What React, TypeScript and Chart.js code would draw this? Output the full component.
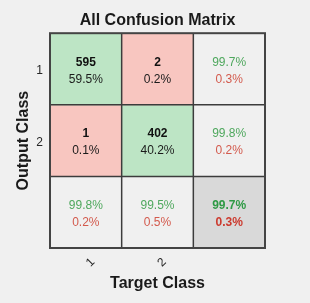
import React, { useEffect, useRef } from 'react';
import { Chart, registerables } from 'chart.js';

Chart.register(...registerables);

const targetClasses = ['1', '2'];
const outputClasses = ['1', '2'];
const counts = [
  [595, 2],
  [1, 402],
];
const cellPercents = [
  [59.5, 0.2],
  [0.1, 40.2],
];
const rowCorrectPct = [99.7, 99.8];
const rowWrongPct = [0.3, 0.2];
const colCorrectPct = [99.8, 99.5];
const colWrongPct = [0.2, 0.5];
const overallCorrectPct = 99.7;
const overallWrongPct = 0.3;

const GREEN_FILL = '#bde5c5';
const RED_FILL = '#f8c6c0';
const GREY_FILL = '#f0f0f0';
const TOTAL_FILL = '#d9d9d9';
const GREEN_TEXT = '#4fa85e';
const RED_TEXT = '#d35a4d';
const FONT = 'Arial, "Liberation Sans", Helvetica, sans-serif';

const fmt = (v: number) => v.toFixed(1) + '%';

export default function App() {
  const ref = useRef<HTMLCanvasElement | null>(null);

  useEffect(() => {
    if (!ref.current) return;
    const n = outputClasses.length;
    const labels = [...targetClasses, ''];
    const fillFor = (r: number, c: number) => {
      if (r === n && c === n) return TOTAL_FILL;
      if (r === n || c === n) return GREY_FILL;
      return r === c ? GREEN_FILL : RED_FILL;
    };
    const datasets = Array.from({ length: n + 1 }, (_, r) => ({
      data: labels.map(() => [r, r + 1] as [number, number]),
      backgroundColor: labels.map((_, c) => fillFor(r, c)),
      borderWidth: 0,
      barPercentage: 1,
      categoryPercentage: 1,
      grouped: false,
    }));

    const textPlugin = {
      id: 'cmText',
      afterDatasetsDraw(chart: any) {
        const { ctx, chartArea } = chart;
        const xs = chart.scales.x;
        const ys = chart.scales.y;
        ctx.save();
        ctx.textAlign = 'center';
        ctx.textBaseline = 'middle';
        const line = (text: string, x: number, y: number, color: string, bold: boolean) => {
          ctx.font = `${bold ? 'bold ' : ''}12px ${FONT}`;
          ctx.fillStyle = color;
          ctx.fillText(text, x, y);
        };
        for (let r = 0; r <= n; r++) {
          for (let c = 0; c <= n; c++) {
            const cx = xs.getPixelForValue(c);
            const cy = ys.getPixelForValue(r + 0.5);
            const y1 = cy - 6.5;
            const y2 = cy + 10.5;
            if (r < n && c < n) {
              line(String(counts[r][c]), cx, y1, '#111111', true);
              line(fmt(cellPercents[r][c]), cx, y2, '#1a1a1a', false);
            } else if (r < n) {
              line(fmt(rowCorrectPct[r]), cx, y1, GREEN_TEXT, false);
              line(fmt(rowWrongPct[r]), cx, y2, RED_TEXT, false);
            } else if (c < n) {
              line(fmt(colCorrectPct[c]), cx, y1, GREEN_TEXT, false);
              line(fmt(colWrongPct[c]), cx, y2, RED_TEXT, false);
            } else {
              line(fmt(overallCorrectPct), cx, y1, '#2f9a45', true);
              line(fmt(overallWrongPct), cx, y2, '#cc3a2e', true);
            }
          }
        }
        // grid lines
        ctx.strokeStyle = '#3c3c3c';
        ctx.lineWidth = 1.5;
        for (let c = 1; c <= n; c++) {
          const x = xs.getPixelForValue(c - 0.5);
          ctx.beginPath();
          ctx.moveTo(x, chartArea.top);
          ctx.lineTo(x, chartArea.bottom);
          ctx.stroke();
        }
        for (let r = 1; r <= n; r++) {
          const y = ys.getPixelForValue(r);
          ctx.beginPath();
          ctx.moveTo(chartArea.left, y);
          ctx.lineTo(chartArea.right, y);
          ctx.stroke();
        }
        ctx.lineWidth = 2;
        ctx.strokeStyle = '#444444';
        ctx.strokeRect(
          chartArea.left,
          chartArea.top,
          chartArea.right - chartArea.left,
          chartArea.bottom - chartArea.top
        );
        ctx.restore();
      },
    };

    const chart = new Chart(ref.current, {
      type: 'bar',
      data: { labels, datasets: datasets as any },
      plugins: [textPlugin],
      options: {
        animation: false,
        responsive: false,
        maintainAspectRatio: false,
        layout: { padding: { top: 0, right: 45, bottom: 0, left: 0 } },
        plugins: {
          legend: { display: false },
          tooltip: { enabled: false },
          title: {
            display: true,
            text: 'All Confusion Matrix',
            fullSize: false,
            color: '#1a1a1a',
            font: { family: FONT, size: 16, weight: 'bold' },
            padding: { top: 11, bottom: 3 },
          },
        },
        scales: {
          x: {
            type: 'category',
            offset: true,
            grid: { display: false, drawTicks: false },
            border: { display: false },
            ticks: {
              color: '#262626',
              font: { family: FONT, size: 12 },
              minRotation: 45,
              maxRotation: 45,
              padding: 7,
              labelOffset: 7,
            },
            title: {
              display: true,
              text: 'Target Class',
              color: '#1a1a1a',
              font: { family: FONT, size: 16, weight: 'bold' },
              padding: { top: 0, bottom: 10 },
            },
            afterFit: (s: any) => {
              s.height = 55;
            },
          },
          y: {
            type: 'linear',
            min: 0,
            max: 3,
            reverse: true,
            grid: { display: false, drawTicks: false },
            border: { display: false },
            afterBuildTicks: (s: any) => {
              s.ticks = outputClasses.map((_, i) => ({ value: i + 0.5 }));
            },
            ticks: {
              color: '#262626',
              font: { family: FONT, size: 12 },
              padding: 7,
              labelOffset: 2,
              callback: (v: any) => outputClasses[Math.round(Number(v) - 0.5)] ?? '',
            },
            title: {
              display: true,
              text: 'Output Class',
              color: '#1a1a1a',
              font: { family: FONT, size: 16, weight: 'bold' },
              padding: { top: 14, bottom: 0 },
            },
            afterFit: (s: any) => {
              s.width = 50;
            },
          },
        },
      } as any,
    });
    return () => chart.destroy();
  }, []);

  return (
    <div
      style={{
        position: 'fixed',
        left: 0,
        top: 0,
        width: 310,
        height: 303,
        background: '#f0f0f0',
      }}
    >
      <canvas ref={ref} width={310} height={303} style={{ width: 310, height: 303, display: 'block' }} />
    </div>
  );
}
